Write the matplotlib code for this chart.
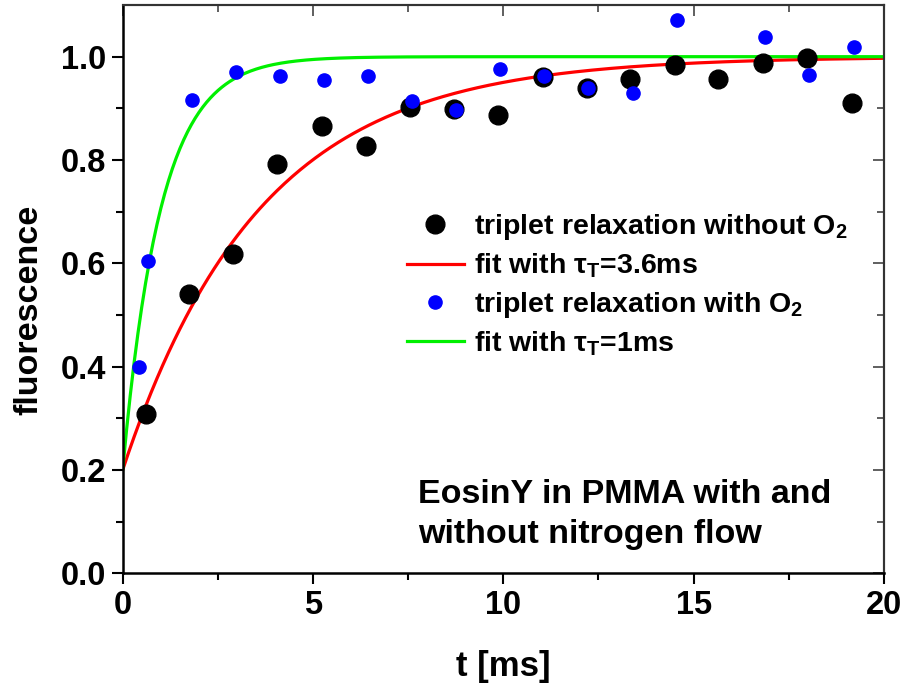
import numpy as np
import matplotlib
matplotlib.use("Agg")
import matplotlib.pyplot as plt

plt.rcParams['font.family'] = ['Liberation Sans', 'DejaVu Sans']
plt.rcParams['font.weight'] = 'bold'
plt.rcParams['mathtext.fontset'] = 'custom'
plt.rcParams['mathtext.rm'] = 'Liberation Sans:bold'
plt.rcParams['mathtext.default'] = 'rm'

# data: triplet relaxation without O2 (black)
t_no_o2 = [0.60, 1.75, 2.91, 4.06, 5.23, 6.38, 7.55, 8.70, 9.87, 11.03,
           12.19, 13.34, 14.51, 15.65, 16.83, 17.98, 19.15]
f_no_o2 = [0.308, 0.540, 0.618, 0.792, 0.866, 0.828, 0.902, 0.898, 0.887, 0.960,
           0.940, 0.956, 0.983, 0.957, 0.988, 0.997, 0.910]

# data: triplet relaxation with O2 (blue)
t_o2 = [0.42, 0.66, 1.81, 2.97, 4.13, 5.29, 6.44, 7.59, 8.75, 9.91,
        11.07, 12.23, 13.40, 14.57, 16.88, 18.04, 19.21]
f_o2 = [0.399, 0.605, 0.917, 0.971, 0.963, 0.955, 0.963, 0.914, 0.897, 0.977,
        0.963, 0.939, 0.929, 1.071, 1.039, 0.965, 1.019]

# fit parameters (exponential recovery)
fit_start = 0.2
fit_end = 1.0
tau_red = 3.6
tau_green = 1.0

t_fit = np.linspace(0, 20, 400)
red_fit = fit_end - (fit_end - fit_start) * np.exp(-t_fit / tau_red)
green_fit = fit_end - (fit_end - fit_start) * np.exp(-t_fit / tau_green)

fig = plt.figure(figsize=(9.06, 6.89), dpi=100)
ax = fig.add_axes([0.1354, 0.168, 0.8403, 0.8247])

h_black, = ax.plot(t_no_o2, f_no_o2, 'o', color='black', ms=13.5, zorder=3,
                   label='triplet relaxation without O$_2$')
h_red, = ax.plot(t_fit, red_fit, '-', color='#ff0000', lw=2.3, zorder=2,
                 label='fit with τ$_\\mathrm{T}$=3.6ms')
h_blue, = ax.plot(t_o2, f_o2, 'o', color='#0000ff', ms=9.5, zorder=4,
                  label='triplet relaxation with O$_2$')
h_green, = ax.plot(t_fit, green_fit, '-', color='#00f000', lw=2.3, zorder=2,
                   label='fit with τ$_\\mathrm{T}$=1ms')

ax.set_xlim(0, 20)
ax.set_ylim(0, 1.10)
ax.set_xticks([0, 5, 10, 15, 20])
ax.set_xticks([2.5, 7.5, 12.5, 17.5], minor=True)
ax.set_yticks([0.0, 0.2, 0.4, 0.6, 0.8, 1.0])
ax.set_yticks([0.1, 0.3, 0.5, 0.7, 0.9], minor=True)
ax.set_yticklabels(['0.0', '0.2', '0.4', '0.6', '0.8', '1.0'])

ax.tick_params(which='major', direction='out', length=8, width=1.5,
               labelsize=23.5, pad=4)
ax.tick_params(which='minor', direction='out', length=5, width=1.5)
ax.tick_params(top=False, right=False, which='both')

# inward ticks on top and right
sec_x = ax.secondary_xaxis('top')
sec_x.set_xticks([0, 5, 10, 15, 20])
sec_x.set_xticks([2.5, 7.5, 12.5, 17.5], minor=True)
sec_x.tick_params(which='major', direction='in', length=8, width=1.2, labeltop=False, color='#444444')
sec_x.tick_params(which='minor', direction='in', length=5, width=1.2, color='#444444')
sec_x.spines['top'].set_color('#333333')
sec_x.spines['top'].set_linewidth(1.5)
sec_y = ax.secondary_yaxis('right')
sec_y.set_yticks([0.0, 0.2, 0.4, 0.6, 0.8, 1.0])
sec_y.set_yticks([0.1, 0.3, 0.5, 0.7, 0.9], minor=True)
sec_y.tick_params(which='major', direction='in', length=8, width=1.2, labelright=False, color='#444444')
sec_y.tick_params(which='minor', direction='in', length=5, width=1.2, color='#444444')
sec_y.spines['right'].set_color('#333333')
sec_y.spines['right'].set_linewidth(1.5)

for s in ['left', 'bottom']:
    ax.spines[s].set_linewidth(1.8)
for s in ['top', 'right']:
    ax.spines[s].set_color('#333333')
    ax.spines[s].set_linewidth(1.5)

ax.set_xlabel('t [ms]', fontsize=25, fontweight='bold', labelpad=21)
ax.set_ylabel('fluorescence', fontsize=24.5, fontweight='bold')
ax.yaxis.set_label_coords(-0.103, 0.463)

leg = ax.legend(handles=[h_black, h_red, h_blue, h_green], loc='upper left',
                bbox_to_anchor=(0.358, 0.655), frameon=False, fontsize=20.5,
                handlelength=2.0, handletextpad=0.35, labelspacing=0.33,
                borderaxespad=0, numpoints=1)

ax.text(0.388, 0.104, 'EosinY in PMMA with and\nwithout nitrogen flow',
        transform=ax.transAxes, fontsize=24.5, fontweight='bold',
        ha='left', va='center', linespacing=1.38)

fig.savefig('out.png', dpi=100)
